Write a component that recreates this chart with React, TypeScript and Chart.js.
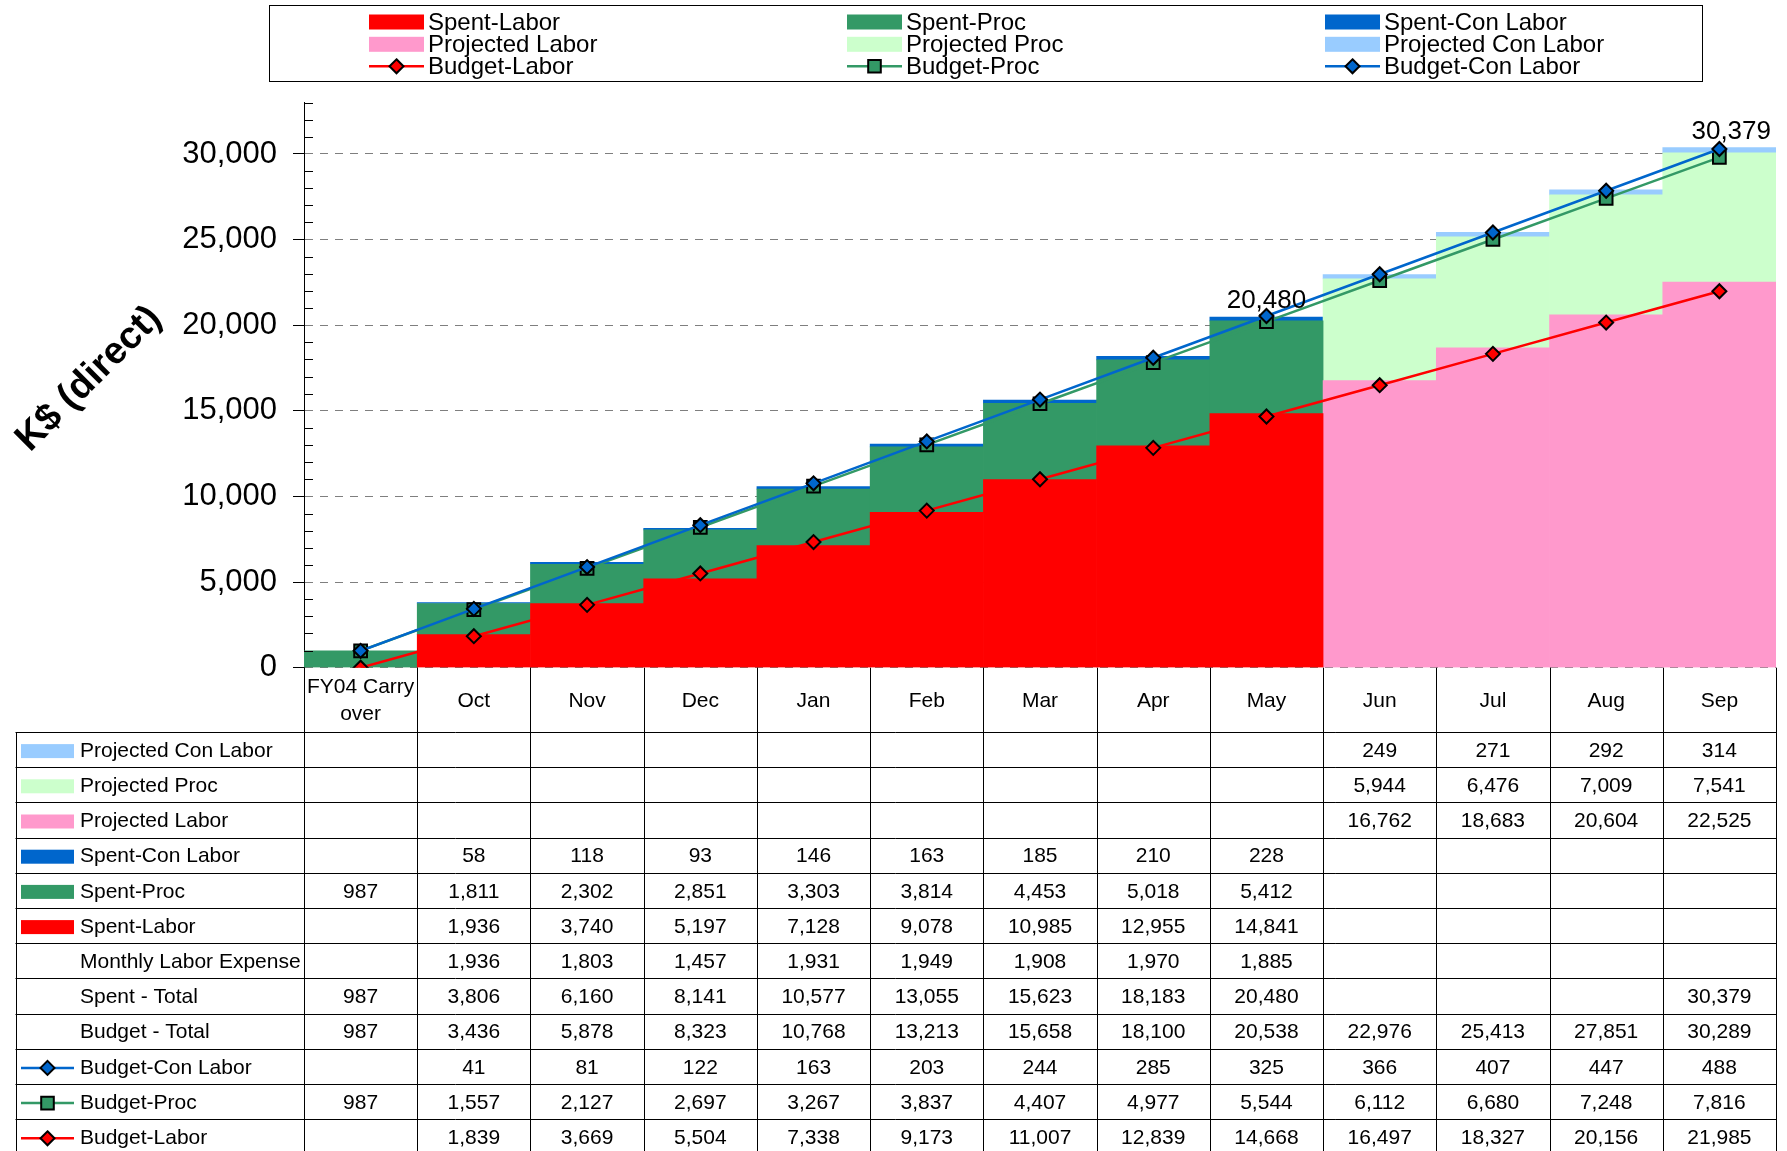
import React, { useEffect, useRef } from 'react';
import { Chart, registerables } from 'chart.js';

Chart.register(...registerables);

const N = null;

const categories: (string | string[])[] = [
  ['FY04 Carry', 'over'], 'Oct', 'Nov', 'Dec', 'Jan', 'Feb', 'Mar', 'Apr', 'May', 'Jun', 'Jul', 'Aug', 'Sep',
];

const projectedConLabor = [N, N, N, N, N, N, N, N, N, 249, 271, 292, 314];
const projectedProc = [N, N, N, N, N, N, N, N, N, 5944, 6476, 7009, 7541];
const projectedLabor = [N, N, N, N, N, N, N, N, N, 16762, 18683, 20604, 22525];
const spentConLabor = [N, 58, 118, 93, 146, 163, 185, 210, 228, N, N, N, N];
const spentProc = [987, 1811, 2302, 2851, 3303, 3814, 4453, 5018, 5412, N, N, N, N];
const spentLabor = [N, 1936, 3740, 5197, 7128, 9078, 10985, 12955, 14841, N, N, N, N];
const monthlyLaborExpense = [N, 1936, 1803, 1457, 1931, 1949, 1908, 1970, 1885, N, N, N, N];
const spentTotal = [987, 3806, 6160, 8141, 10577, 13055, 15623, 18183, 20480, N, N, N, 30379];
const budgetTotal = [987, 3436, 5878, 8323, 10768, 13213, 15658, 18100, 20538, 22976, 25413, 27851, 30289];
const budgetConLabor = [N, 41, 81, 122, 163, 203, 244, 285, 325, 366, 407, 447, 488];
const budgetProc = [987, 1557, 2127, 2697, 3267, 3837, 4407, 4977, 5544, 6112, 6680, 7248, 7816];
const budgetLabor = [N, 1839, 3669, 5504, 7338, 9173, 11007, 12839, 14668, 16497, 18327, 20156, 21985];
const labelledTotals = [N, N, N, N, N, N, N, N, 20480, N, N, N, 30379];

const yMin = 0;
const yMax = 33000;
const yMinorStep = 1000;
const yMajorStep = 5000;
const yTitle = 'K$ (direct)';

const COL = {
  spentLabor: '#FF0000',
  projLabor: '#FF99CC',
  spentProc: '#339966',
  projProc: '#CCFFCC',
  spentCon: '#0066CC',
  projCon: '#99CCFF',
};

const FONT = '"Liberation Sans", Arial, sans-serif';

const z = (v: number | null) => (v == null ? 0 : v);
const cumLabor = budgetLabor.map((v) => z(v));
const cumProc = cumLabor.map((v, i) => v + z(budgetProc[i]));
const cumCon = cumProc.map((v, i) => v + z(budgetConLabor[i]));

const fmt = (v: number | null) => (v == null ? '' : v.toLocaleString('en-US'));

type Key = { kind: 'box'; color: string } | { kind: 'line'; color: string; marker: 'diamond' | 'square' } | null;

function drawMarker(ctx: CanvasRenderingContext2D, marker: 'diamond' | 'square', x: number, y: number, color: string) {
  ctx.save();
  ctx.beginPath();
  if (marker === 'diamond') {
    const r = 7;
    ctx.moveTo(x, y - r);
    ctx.lineTo(x + r, y);
    ctx.lineTo(x, y + r);
    ctx.lineTo(x - r, y);
    ctx.closePath();
  } else {
    const s = 6.3;
    ctx.rect(x - s, y - s, 2 * s, 2 * s);
  }
  ctx.fillStyle = color;
  ctx.fill();
  ctx.lineWidth = 2;
  ctx.strokeStyle = '#000';
  ctx.stroke();
  ctx.restore();
}

function drawKey(ctx: CanvasRenderingContext2D, key: Key, x: number, y: number, w: number, h: number) {
  if (!key) return;
  if (key.kind === 'box') {
    ctx.fillStyle = key.color;
    ctx.fillRect(x, y - h / 2, w, h);
  } else {
    ctx.save();
    ctx.strokeStyle = key.color;
    ctx.lineWidth = 2.5;
    ctx.beginPath();
    ctx.moveTo(x, y);
    ctx.lineTo(x + w, y);
    ctx.stroke();
    ctx.restore();
    drawMarker(ctx, key.marker, x + w / 2, y, key.color);
  }
}

const keys: Record<string, Key> = {
  'Spent-Labor': { kind: 'box', color: COL.spentLabor },
  'Spent-Proc': { kind: 'box', color: COL.spentProc },
  'Spent-Con Labor': { kind: 'box', color: COL.spentCon },
  'Projected Labor': { kind: 'box', color: COL.projLabor },
  'Projected Proc': { kind: 'box', color: COL.projProc },
  'Projected Con Labor': { kind: 'box', color: COL.projCon },
  'Budget-Labor': { kind: 'line', color: COL.spentLabor, marker: 'diamond' },
  'Budget-Proc': { kind: 'line', color: COL.spentProc, marker: 'square' },
  'Budget-Con Labor': { kind: 'line', color: COL.spentCon, marker: 'diamond' },
};

const legendGrid = [
  ['Spent-Labor', 'Spent-Proc', 'Spent-Con Labor'],
  ['Projected Labor', 'Projected Proc', 'Projected Con Labor'],
  ['Budget-Labor', 'Budget-Proc', 'Budget-Con Labor'],
];

const tableRows: { label: string; data: (number | null)[] }[] = [
  { label: 'Projected Con Labor', data: projectedConLabor },
  { label: 'Projected Proc', data: projectedProc },
  { label: 'Projected Labor', data: projectedLabor },
  { label: 'Spent-Con Labor', data: spentConLabor },
  { label: 'Spent-Proc', data: spentProc },
  { label: 'Spent-Labor', data: spentLabor },
  { label: 'Monthly Labor Expense', data: monthlyLaborExpense },
  { label: 'Spent - Total', data: spentTotal },
  { label: 'Budget - Total', data: budgetTotal },
  { label: 'Budget-Con Labor', data: budgetConLabor },
  { label: 'Budget-Proc', data: budgetProc },
  { label: 'Budget-Labor', data: budgetLabor },
];

const extrasPlugin = {
  id: 'extras',
  afterDatasetsDraw(chart: any) {
    const ctx: CanvasRenderingContext2D = chart.ctx;
    const y = chart.scales.y;
    const x = chart.scales.x;
    const area = chart.chartArea;
    // minor ticks inside the axis
    ctx.save();
    ctx.strokeStyle = '#000';
    ctx.lineWidth = 1;
    for (let v = yMin + yMinorStep; v <= yMax; v += yMinorStep) {
      if (v % yMajorStep === 0) continue;
      const py = Math.round(y.getPixelForValue(v)) + 0.5;
      ctx.beginPath();
      ctx.moveTo(area.left, py);
      ctx.lineTo(area.left + 9, py);
      ctx.stroke();
    }
    ctx.restore();
    // total labels
    ctx.save();
    ctx.font = `26px ${FONT}`;
    ctx.fillStyle = '#000';
    ctx.textAlign = 'center';
    ctx.textBaseline = 'middle';
    labelledTotals.forEach((v, i) => {
      if (v == null) return;
      const w = ctx.measureText(fmt(v)).width;
      let cx = x.getPixelForValue(i);
      if (i === labelledTotals.length - 1) cx = Math.max(cx, area.right - 5 - w / 2);
      ctx.fillText(fmt(v), cx, y.getPixelForValue(v) - 16);
    });
    ctx.restore();
  },
  afterDraw(chart: any) {
    const ctx: CanvasRenderingContext2D = chart.ctx;
    const x = chart.scales.x;
    const area = chart.chartArea;
    const H = chart.height;

    // Y axis title
    ctx.save();
    ctx.translate(89, 379);
    ctx.rotate(-Math.PI / 4);
    ctx.font = `bold 38px ${FONT}`;
    ctx.fillStyle = '#000';
    ctx.textAlign = 'center';
    ctx.textBaseline = 'middle';
    ctx.fillText(yTitle, 0, 0);
    ctx.restore();

    // Legend
    ctx.save();
    ctx.fillStyle = '#fff';
    ctx.fillRect(269.5, 5.5, 1433, 76);
    ctx.strokeStyle = '#000';
    ctx.lineWidth = 1;
    ctx.strokeRect(269.5, 5.5, 1433, 76);
    const colX = [369, 847, 1325];
    const rowY = [22, 44.3, 66.3];
    ctx.font = `24px ${FONT}`;
    ctx.textBaseline = 'middle';
    ctx.textAlign = 'left';
    legendGrid.forEach((row, r) => {
      row.forEach((name, c) => {
        drawKey(ctx, keys[name], colX[c], rowY[r], 55, 15);
        ctx.fillStyle = '#000';
        ctx.fillText(name, colX[c] + 59, rowY[r] + 1);
      });
    });
    ctx.restore();

    // Data table
    const n = categories.length;
    const cw = (area.right - area.left) / n;
    const top = area.bottom;
    const headBottom = 732;
    const rowH = 35.2;
    const tableLeft = 15.5;
    const snap = (v: number) => Math.round(v) + 0.5;
    ctx.save();
    ctx.strokeStyle = '#000';
    ctx.lineWidth = 1;
    for (let i = 0; i <= n; i++) {
      const px = snap(x.getPixelForValue(i) - cw / 2);
      ctx.beginPath();
      ctx.moveTo(px, top);
      ctx.lineTo(px, H);
      ctx.stroke();
    }
    ctx.beginPath();
    ctx.moveTo(snap(tableLeft), headBottom);
    ctx.lineTo(snap(tableLeft), H);
    ctx.stroke();
    for (let j = 0; j <= tableRows.length; j++) {
      const py = snap(headBottom + j * rowH);
      if (py > H) break;
      ctx.beginPath();
      ctx.moveTo(tableLeft, py);
      ctx.lineTo(area.right, py);
      ctx.stroke();
    }
    ctx.font = `21px ${FONT}`;
    ctx.fillStyle = '#000';
    ctx.textAlign = 'center';
    ctx.textBaseline = 'middle';
    categories.forEach((c, i) => {
      const cx = x.getPixelForValue(i);
      const lines = Array.isArray(c) ? c : [c];
      const mid = (top + headBottom) / 2 + 1;
      const lh = 27;
      lines.forEach((t, k) => {
        ctx.fillText(t, cx, mid + (k - (lines.length - 1) / 2) * lh);
      });
    });
    tableRows.forEach((row, j) => {
      const cy = headBottom + (j + 0.5) * rowH + 1.5;
      drawKey(ctx, keys[row.label] ?? null, 21, cy, 53, 14);
      ctx.fillStyle = '#000';
      ctx.textAlign = 'left';
      ctx.fillText(row.label, 80, cy);
      ctx.textAlign = 'center';
      row.data.forEach((v, i) => {
        if (v == null) return;
        ctx.fillText(fmt(v), x.getPixelForValue(i), cy);
      });
    });
    ctx.restore();
  },
};

export default function App() {
  const ref = useRef<HTMLCanvasElement>(null);
  useEffect(() => {
    document.body.style.margin = '0';
    document.body.style.overflow = 'hidden';
    const canvas = ref.current!;
    Chart.defaults.font.family = FONT;
    const bar = (label: string, data: (number | null)[], color: string) => ({
      type: 'bar' as const,
      label,
      data,
      backgroundColor: color,
      borderWidth: 0,
      categoryPercentage: 1,
      barPercentage: 1,
      order: 10,
      stack: 'bars',
    });
    const line = (label: string, data: number[], color: string, marker: string, radius: number, order: number) => ({
      type: 'line' as const,
      label,
      data,
      borderColor: color,
      borderWidth: 2.5,
      backgroundColor: color,
      pointStyle: marker,
      pointRadius: radius,
      pointBackgroundColor: color,
      pointBorderColor: '#000',
      pointBorderWidth: 2,
      tension: 0,
      order,
      stack: label,
    });
    const chart = new Chart(canvas, {
      type: 'bar',
      data: {
        labels: categories as any,
        datasets: [
          bar('Spent-Labor', spentLabor, COL.spentLabor),
          bar('Projected Labor', projectedLabor, COL.projLabor),
          bar('Spent-Proc', spentProc, COL.spentProc),
          bar('Projected Proc', projectedProc, COL.projProc),
          bar('Spent-Con Labor', spentConLabor, COL.spentCon),
          bar('Projected Con Labor', projectedConLabor, COL.projCon),
          line('Budget-Labor', cumLabor, COL.spentLabor, 'rectRot', 7, 2),
          line('Budget-Proc', cumProc, COL.spentProc, 'rect', 9, 1),
          line('Budget-Con Labor', cumCon, COL.spentCon, 'rectRot', 7, 0),
        ] as any,
      },
      options: {
        responsive: false,
        maintainAspectRatio: false,
        animation: false,
        devicePixelRatio: 1,
        layout: { padding: { top: 102.6, bottom: 1151 - 667.7, left: 0, right: 8 } },
        plugins: { legend: { display: false }, tooltip: { enabled: false }, title: { display: false } },
        scales: {
          x: { display: false, stacked: true },
          y: {
            stacked: true,
            min: yMin,
            max: yMax,
            afterFit: (s: any) => {
              s.width = 304;
            },
            ticks: {
              stepSize: yMinorStep,
              autoSkip: false,
              padding: 16,
              color: '#000',
              font: { size: 31, family: FONT },
              callback: (v: any) => (Number(v) % yMajorStep === 0 ? Number(v).toLocaleString('en-US') : ''),
            },
            grid: {
              color: (c: any) => (c.tick && c.tick.value % yMajorStep === 0 ? '#7f7f7f' : 'rgba(0,0,0,0)'),
              tickColor: (c: any) => (c.tick && c.tick.value % yMajorStep === 0 ? '#000' : 'rgba(0,0,0,0)'),
              tickLength: 11,
              lineWidth: 1,
            },
            border: { display: true, color: '#000', width: 1, dash: [8, 7] },
          },
        },
      } as any,
      plugins: [extrasPlugin],
    });
    return () => chart.destroy();
  }, []);
  return <canvas ref={ref} width={1787} height={1151} style={{ display: 'block', width: 1787, height: 1151 }} />;
}
